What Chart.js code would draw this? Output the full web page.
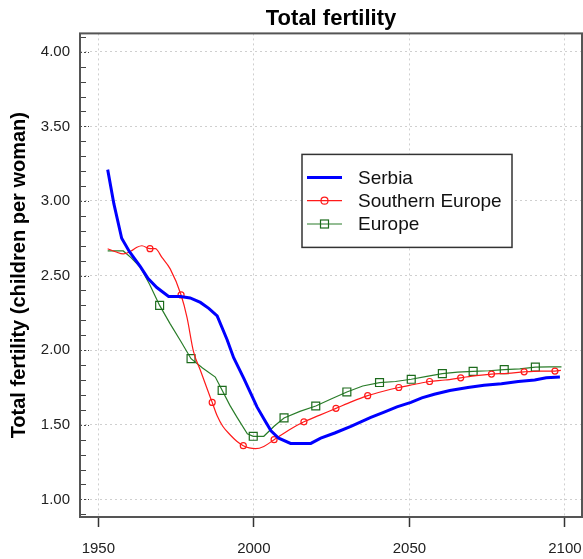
<!DOCTYPE html>
<html>
<head>
<meta charset="utf-8">
<title>Total fertility</title>
<script src="https://cdn.jsdelivr.net/npm/chart.js@4.4.0/dist/chart.umd.min.js"></script>
<style>
  html, body { margin: 0; padding: 0; background: #fff; }
  #wrap { width: 583px; height: 559px; }
</style>
</head>
<body>
<div id="wrap"><canvas id="fertility" width="583" height="559"></canvas></div>
<script>
// total fertility, children per woman
var serbiaYears = [1953, 1955, 1957.5, 1960, 1963.5, 1966, 1968.8, 1972.6, 1976.4, 1979.5, 1982.8, 1985.5, 1988.2, 1991.4, 1993.5, 1996.8, 1999, 2001, 2003.2, 2005.5, 2008, 2011.8, 2018.3, 2021.5, 2026, 2031.2, 2037.6, 2041.9, 2046, 2050.5, 2054, 2058, 2063, 2068.8, 2074, 2079.6, 2085, 2090.3, 2094, 2098.4];
var serbiaValues = [3.21, 2.98, 2.75, 2.66, 2.56, 2.48, 2.42, 2.36, 2.36, 2.35, 2.32, 2.28, 2.23, 2.07, 1.95, 1.81, 1.71, 1.62, 1.54, 1.46, 1.41, 1.375, 1.375, 1.41, 1.445, 1.49, 1.55, 1.585, 1.62, 1.65, 1.68, 1.705, 1.73, 1.75, 1.765, 1.775, 1.79, 1.80, 1.815, 1.82];

var southYears = [1953, 1955.5, 1958, 1960.5, 1962.4, 1964, 1966.6, 1968.3, 1970.5, 1973.1, 1976.6, 1978.5, 1980.6, 1982.8, 1985, 1986.6, 1988.2, 1990, 1992.5, 1994.5, 1996.6, 1998.5, 2000.5, 2003.2, 2006.5, 2011.3, 2016.1, 2021.2, 2026.4, 2031.5, 2036.6, 2041.6, 2046.6, 2051.5, 2056.5, 2061.5, 2066.5, 2071.5, 2076.4, 2081.6, 2086.9, 2092, 2096.8, 2098.7];
var southValues = [2.68, 2.66, 2.645, 2.665, 2.69, 2.70, 2.68, 2.68, 2.62, 2.545, 2.37, 2.22, 1.99, 1.865, 1.74, 1.65, 1.56, 1.49, 1.43, 1.39, 1.36, 1.345, 1.34, 1.355, 1.40, 1.465, 1.52, 1.565, 1.61, 1.655, 1.695, 1.725, 1.75, 1.77, 1.79, 1.80, 1.815, 1.83, 1.84, 1.845, 1.855, 1.86, 1.86, 1.865];
var southMarks = [1966.6, 1976.6, 1986.6, 1996.6, 2006.5, 2016.1, 2026.4, 2036.6, 2046.6, 2056.5, 2066.5, 2076.4, 2086.9, 2096.8];

var europeYears = [1953, 1958, 1960.5, 1963.5, 1966.5, 1969.7, 1973, 1976.5, 1979.8, 1983.5, 1987.6, 1989.8, 1992.3, 1994.6, 1997.9, 1999.8, 2003.2, 2006.5, 2009.7, 2014.8, 2019.9, 2025, 2029.9, 2035, 2040.4, 2045.5, 2050.6, 2055.6, 2060.6, 2065.5, 2070.5, 2075.5, 2080.5, 2085.5, 2090.5, 2095, 2098.9];
var europeValues = [2.665, 2.665, 2.62, 2.556, 2.44, 2.30, 2.18, 2.06, 1.943, 1.88, 1.82, 1.731, 1.63, 1.55, 1.44, 1.423, 1.423, 1.49, 1.546, 1.59, 1.626, 1.675, 1.72, 1.76, 1.783, 1.79, 1.805, 1.825, 1.843, 1.853, 1.858, 1.862, 1.87, 1.875, 1.887, 1.888, 1.888];
var europeMarks = [1969.7, 1979.8, 1989.8, 1999.8, 2009.7, 2019.9, 2029.9, 2040.4, 2050.6, 2060.6, 2070.5, 2080.5, 2090.5];

var xTicks = [1950, 2000, 2050, 2100];
var yTicks = [1.0, 1.5, 2.0, 2.5, 3.0, 3.5, 4.0];

function toPoints(xs, ys) {
    return xs.map(function(x, i) { return { x: x, y: ys[i] }; });
}

function markRadius(marks, r) {
    return function(ctx) {
        return (ctx.raw && marks.indexOf(ctx.raw.x) >= 0) ? r : 0;
    };
}

Chart.defaults.font.family = "'Liberation Sans', Arial, sans-serif";
Chart.defaults.color = '#222';

// box round the plot and small inward ticks on the y axis
var frame = {
    id: 'frame',
    afterDraw: function(chart) {
        var c = chart.ctx, a = chart.chartArea, y = chart.scales.y;
        c.save();
        c.strokeStyle = '#444';
        c.lineWidth = 1;
        for (var v = 9; v <= 41; v++) {
            var py = Math.round(y.getPixelForValue(v / 10)) + 0.5;
            if (v % 5 === 0) {
                c.setLineDash([2, 2]);
                c.beginPath(); c.moveTo(a.left, py); c.lineTo(a.left + 9, py); c.stroke();
                c.setLineDash([]);
            } else {
                c.beginPath(); c.moveTo(a.left, py); c.lineTo(a.left + 6, py); c.stroke();
            }
        }
        c.strokeStyle = '#555';
        c.lineWidth = 2;
        c.strokeRect(a.left, a.top, a.right - a.left, a.bottom - a.top);
        c.restore();
    }
};

// boxed legend inside the plot, line sample with its marker
var legendBox = {
    id: 'legendBox',
    afterDraw: function(chart) {
        var c = chart.ctx, a = chart.chartArea;
        var x = a.left + 222, y = a.top + 121, w = 210, h = 93;
        c.save();
        c.fillStyle = '#fff';
        c.fillRect(x, y, w, h);
        c.strokeStyle = '#333';
        c.lineWidth = 1.5;
        c.strokeRect(x, y, w, h);
        c.font = "19px 'Liberation Sans', Arial, sans-serif";
        c.textBaseline = 'middle';
        chart.data.datasets.forEach(function(ds, i) {
            var ry = y + 23 + i * 23.3;
            c.strokeStyle = ds.borderColor;
            c.lineWidth = ds.borderWidth;
            c.beginPath(); c.moveTo(x + 5, ry); c.lineTo(x + 40, ry); c.stroke();
            c.lineWidth = 1.2;
            c.strokeStyle = ds.pointBorderColor;
            if (ds.pointStyle === 'circle') {
                c.beginPath(); c.arc(x + 22.5, ry, 3.5, 0, Math.PI * 2); c.stroke();
            } else if (ds.pointStyle === 'rect') {
                c.strokeRect(x + 18.5, ry - 4, 8, 8);
            }
            c.fillStyle = '#111';
            c.fillText(ds.label, x + 56, ry + 1);
        });
        c.restore();
    }
};

var ctx = document.getElementById('fertility');
var chart = new Chart(ctx, {
    type: 'line',
    data: {
        datasets: [{
            label: 'Serbia',
            data: toPoints(serbiaYears, serbiaValues),
            borderColor: '#0000ff',
            borderWidth: 3,
            pointRadius: 0,
            pointStyle: false,
            pointBorderColor: '#0000ff'
        }, {
            label: 'Southern Europe',
            data: toPoints(southYears, southValues),
            borderColor: '#ff1a1a',
            borderWidth: 1.2,
            cubicInterpolationMode: 'monotone',
            pointStyle: 'circle',
            pointRadius: markRadius(southMarks, 3),
            pointBorderWidth: 1.2,
            pointBorderColor: '#ff1a1a',
            pointBackgroundColor: 'rgba(255,255,255,0)'
        }, {
            label: 'Europe',
            data: toPoints(europeYears, europeValues),
            borderColor: '#2a7d2a',
            borderWidth: 1.2,
            pointStyle: 'rect',
            pointRadius: markRadius(europeMarks, 5.6),
            pointBorderWidth: 1.2,
            pointBorderColor: '#1c6b1c',
            pointBackgroundColor: 'rgba(255,255,255,0)'
        }]
    },
    options: {
        responsive: false,
        animation: false,
        events: [],
        layout: { padding: { left: 0, right: 1, top: 0, bottom: 0 } },
        plugins: {
            legend: { display: false },
            tooltip: { enabled: false },
            title: {
                display: true,
                fullSize: false,
                text: 'Total fertility',
                color: '#000',
                font: { size: 22, weight: 'bold' },
                padding: { top: 6, bottom: 1 }
            }
        },
        scales: {
            x: {
                type: 'linear',
                min: 1944.1,
                max: 2105.5,
                afterBuildTicks: function(scale) {
                    scale.ticks = xTicks.map(function(v) { return { value: v }; });
                },
                afterFit: function(scale) {
                    scale.height = 42;
                    scale.paddingLeft = 0;
                    scale.paddingRight = 0;
                },
                ticks: {
                    font: { size: 15 },
                    padding: 13,
                    maxRotation: 0,
                    callback: function(v) { return String(v); }
                },
                grid: {
                    color: '#cfcfcf',
                    lineWidth: 1,
                    drawTicks: true,
                    tickLength: 10,
                    tickColor: '#333',
                    tickWidth: 1.5,
                    tickBorderDash: []
                },
                border: { display: false, dash: [2, 3] }
            },
            y: {
                type: 'linear',
                min: 0.882,
                max: 4.123,
                afterBuildTicks: function(scale) {
                    scale.ticks = yTicks.map(function(v) { return { value: v }; });
                },
                afterFit: function(scale) {
                    scale.width = 80;
                    scale.paddingTop = 0;
                    scale.paddingBottom = 0;
                },
                ticks: {
                    font: { size: 15 },
                    padding: 10,
                    callback: function(v) { return v.toFixed(2); }
                },
                grid: {
                    color: '#cfcfcf',
                    lineWidth: 1,
                    drawTicks: false
                },
                border: { display: false, dash: [2, 3] },
                title: {
                    display: true,
                    text: 'Total fertility (children per woman)',
                    color: '#000',
                    font: { size: 20, weight: 'bold' },
                    padding: { top: 7, bottom: 0 }
                }
            }
        }
    },
    plugins: [frame, legendBox]
});
</script>
</body>
</html>
